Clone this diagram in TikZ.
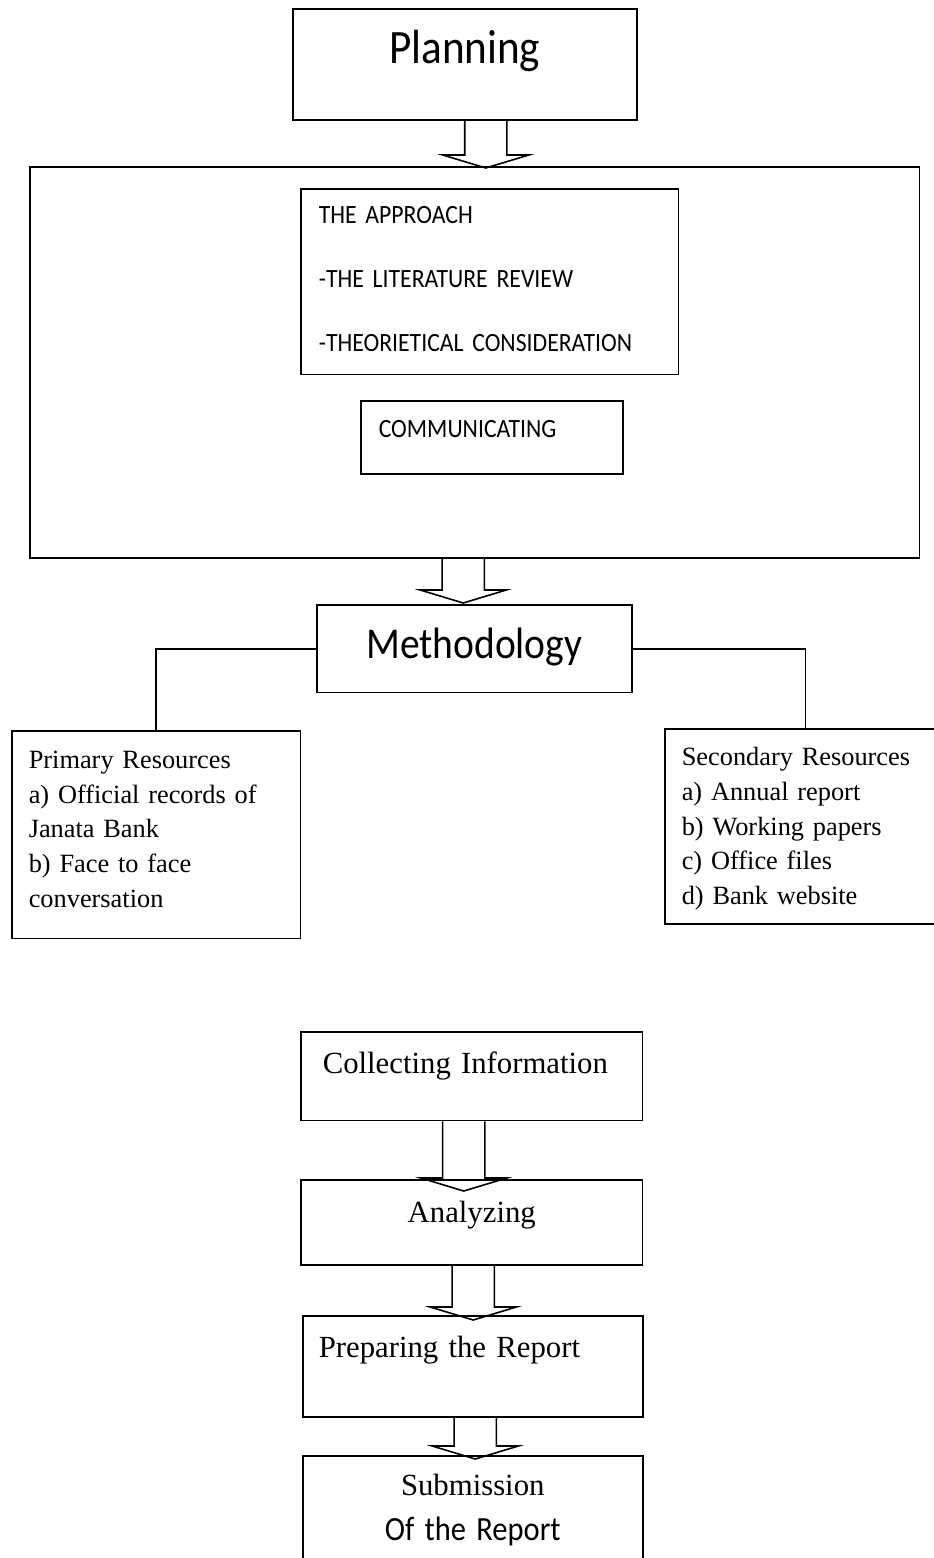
\documentclass[tikz,border=0pt]{standalone}
\usepackage{fontspec}
\setmainfont{Liberation Serif}
\newfontfamily\carlito[FakeStretch=0.9, WordSpace=0.8]{Carlito}
\usetikzlibrary{calc}

% hollow block arrow: from node, to node, x offset of shaft, y of head base
\newcommand{\hollowarrow}[4]{%
  \draw let \p1=($(#1.south)+(#3,0)$), \p2=($(#2.north)+(0,#4)$) in
    (\x1-12pt,\y1) -- (\x1-12pt,\y2) -- (\x1-24.5pt,\y2) -- (\x1,\y2-7.4pt)
    -- (\x1+24.5pt,\y2) -- (\x1+12pt,\y2) -- (\x1+12pt,\y1);}

\begin{document}
\begin{tikzpicture}[
    x=0.02cm, y=-0.02cm,
    line width=0.9pt,
    box/.style={draw, anchor=north west, inner xsep=0pt, inner ysep=0pt},
    bigtitle/.style={font=\carlito\fontsize{27.3}{32}\selectfont},
    capslist/.style={font=\carlito\fontsize{15}{36.4}\selectfont},
    serifbox/.style={font=\fontsize{17.5}{25.6}\selectfont},
    reslist/.style={font=\fontsize{15}{19.7}\selectfont, align=left, inner xsep=9.67pt}
  ]
    \useasboundingbox (0,0) rectangle (933,1558);

    \node[box, bigtitle, text width=195.8pt, align=center,
      text height=31.3pt, text depth=31.9pt] (plan) at (292,8) {Planning};
    \node[box, minimum width=506.5pt, minimum height=222.5pt] (outer) at (29,166) {};
    \node[box, capslist, inner xsep=10.24pt, text width=194.6pt, align=left,
      text height=19.9pt, text depth=85.9pt] (appr) at (300,188)
      {THE APPROACH\\-THE LITERATURE REVIEW\\-THEORIETICAL CONSIDERATION};
    \node[box, capslist, inner xsep=10.24pt, text width=128.6pt, align=left,
      text height=21.1pt, text depth=20.5pt] (comm) at (360,400) {COMMUNICATING};

    \node[box, font=\carlito\fontsize{25}{30}\selectfont, text width=179.3pt, align=center,
      text height=30.7pt, text depth=19.3pt] (meth) at (316,604) {Methodology};
    \node[box, reslist, text width=145.1pt,
      text height=21.6pt, text depth=96.7pt] (prim) at (11,730)
      {Primary Resources\\a) Official records of\\Janata Bank\\b) Face to face\\conversation};
    \node[box, reslist, text width=140.6pt,
      text height=21.1pt, text depth=89.9pt] (sec) at (664,728)
      {Secondary Resources\\a) Annual report\\b) Working papers\\c) Office files\\d) Bank website};

    \node[box, serifbox, inner xsep=12.5pt, text width=169.6pt, align=left,
      text height=23.9pt, text depth=26.7pt] (coll) at (300,1031) {Collecting Information};
    \node[box, serifbox, text width=194.6pt, align=center,
      text height=24.5pt, text depth=23.9pt] (anal) at (300,1179) {Analyzing};
    \node[box, serifbox, inner xsep=9.1pt, text width=175.3pt, align=left,
      text height=23.9pt, text depth=33.6pt] (prep) at (302,1315) {Preparing the Report};
    \node[box, serifbox, text width=193.5pt, align=center,
      text height=22.8pt, text depth=45.5pt] (subm) at (302,1455)
      {Submission\\{\carlito\fontsize{19.3}{25.6}\selectfont Of the Report}};

    \hollowarrow{plan}{outer}{21}{-11}
    \hollowarrow{outer}{meth}{-11.5}{-14}
    \draw (meth.west) -| (prim.north);
    \draw (meth.east) -| (sec.north);
    \hollowarrow{coll}{anal}{-8}{-1}
    \hollowarrow{anal}{prep}{1.5}{-8}
    \hollowarrow{prep}{subm}{2.5}{-9}
  \end{tikzpicture}
\end{document}
